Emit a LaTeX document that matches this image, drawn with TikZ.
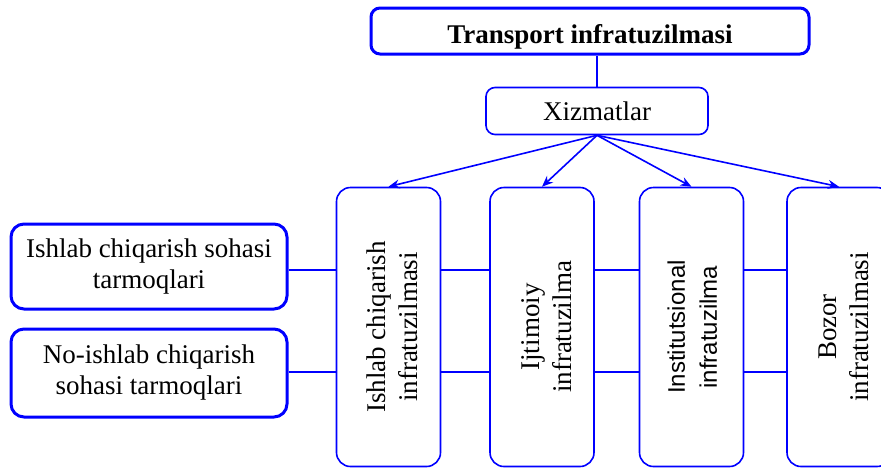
\documentclass[tikz,border=0pt]{standalone}
\usepackage{fontspec}
\setmainfont{Liberation Serif}
\newfontfamily\instfont{Liberation Sans}
\usetikzlibrary{positioning,arrows.meta}
\begin{document}
\begin{tikzpicture}[x=1pt,y=-1pt,->,>={Stealth[length=11pt,width=9pt]},line width=1.6pt,draw=blue]
		\useasboundingbox (0,0) rectangle (881,469);
		
		% Styles for the boxes
		\tikzstyle{main box}=[rectangle,rounded corners=9pt,draw=blue,line width=3pt,minimum width=438pt,minimum height=46pt,font=\fontsize{27}{31}\selectfont\bfseries]
		\tikzstyle{serv box}=[rectangle,rounded corners=9pt,draw=blue,line width=1.6pt,minimum width=222pt,minimum height=47pt,font=\fontsize{27}{31}\selectfont]
		\tikzstyle{vert box}=[rectangle,rounded corners=14pt,draw=blue,line width=1.6pt,minimum width=104pt,minimum height=279pt,font=\fontsize{27}{32}\selectfont]
		\tikzstyle{side box}=[rectangle,rounded corners=13pt,draw=blue,line width=3pt,minimum width=276pt,align=center,font=\fontsize{27}{31}\selectfont]
		
		% Nodes for the scheme
		\node[main box] (top) at (590,31) {\raisebox{-6pt}[\height][\depth]{Transport infratuzilmasi}};
		\node[serv box] (xiz) at (597,111) {Xizmatlar};
		
		\node[vert box] (b1) at (388.5,327) {\hspace{14pt}\rotatebox{90}{\begin{tabular}{@{}c@{}}Ishlab chiqarish\\infratuzilmasi\end{tabular}}};
		\node[vert box] (b2) at (542,327) {\hspace{14pt}\rotatebox{90}{\begin{tabular}{@{}c@{}}Ijtimoiy\\infratuzilma\end{tabular}}};
		\node[vert box] (b3) at (691.5,327) {\hspace{6pt}\rotatebox{90}{\instfont\fontsize{24}{32}\selectfont\begin{tabular}{@{}c@{}}Institutsional\\infratuzilma\end{tabular}}};
		\node[vert box] (b4) at (839,327) {\hspace{14pt}\rotatebox{90}{\begin{tabular}{@{}c@{}}Bozor\\infratuzilmasi\end{tabular}}};
		
		\node[side box,minimum height=85pt] (la) at (149,266.5) {Ishlab chiqarish sohasi\\tarmoqlari};
		\node[side box,minimum height=88pt] (lb) at (149,373) {No-ishlab chiqarish\\sohasi tarmoqlari};
		
		% Rows of the links
		\coordinate (r1) at (0,270);
		\coordinate (r2) at (0,372);
		
		% Transitions
		\path
		% Top to services
		(xiz.north) edge[-] (xiz.north |- top.south)
		
		% Services to the four kinds
		(xiz.south) edge (b1.north)
		(xiz.south) edge (b2.north)
		(xiz.south) edge (b3.north)
		(xiz.south) edge (b4.north)
		
		% Links between the boxes
		(la.east |- r1) edge[-] (b1.west |- r1)
		(lb.east |- r2) edge[-] (b1.west |- r2)
		(b1.east |- r1) edge[-] (b2.west |- r1)
		(b1.east |- r2) edge[-] (b2.west |- r2)
		(b2.east |- r1) edge[-] (b3.west |- r1)
		(b2.east |- r2) edge[-] (b3.west |- r2)
		(b3.east |- r1) edge[-] (b4.west |- r1)
		(b3.east |- r2) edge[-] (b4.west |- r2);
		
	\end{tikzpicture}
\end{document}
